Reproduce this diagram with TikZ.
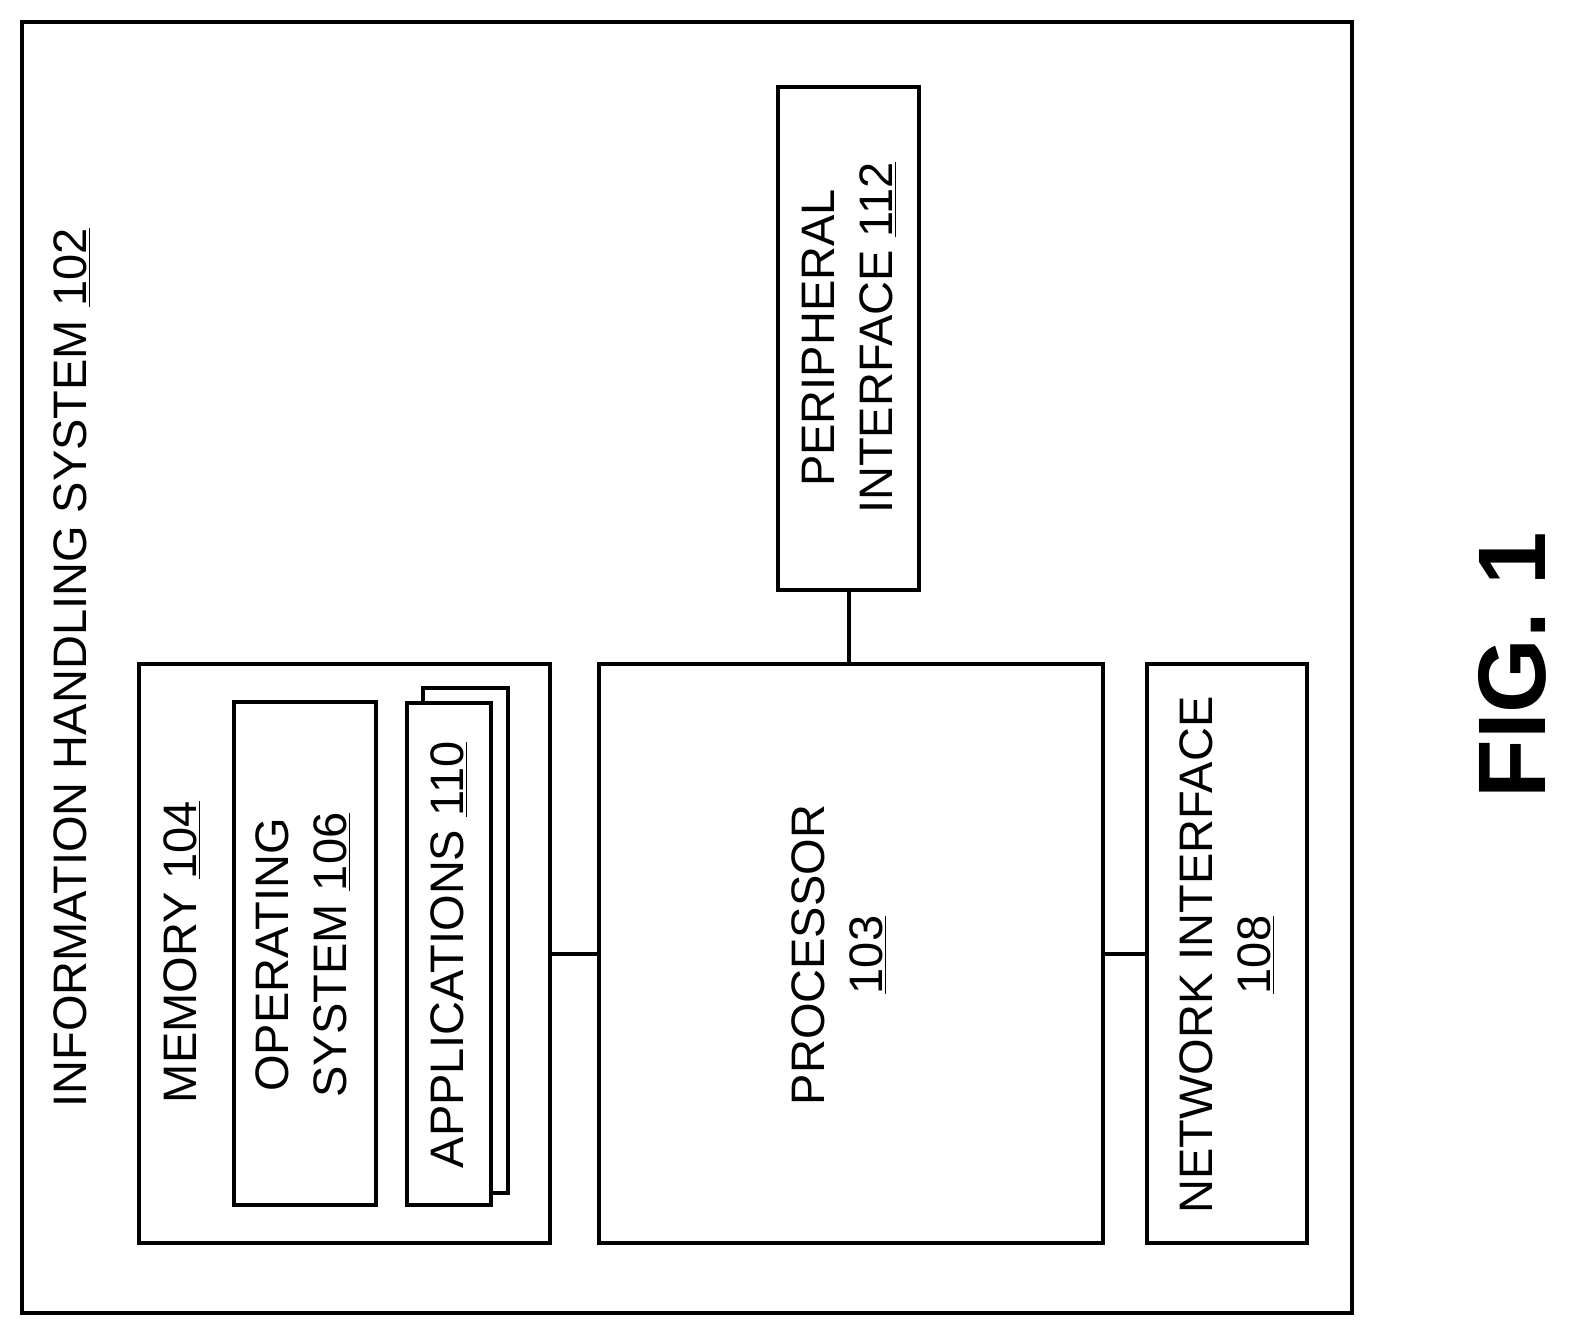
\documentclass[tikz,border=0pt]{standalone}
\usepackage{fontspec}
\setmainfont{Liberation Sans}
\begin{document}
\begin{tikzpicture}[x=0.5pt,y=-0.5pt,
  box/.style={draw,line width=2pt},
  lbl/.style={rotate=90,align=center,font=\fontsize{23.5}{29}\selectfont,inner sep=0pt}]
\useasboundingbox (0,0) rectangle (1573,1340);
\draw[box] (22,22) rectangle (1352,1313);
\draw[box] (778,87) rectangle (919,590);
\draw[box] (139,664) rectangle (550,1243);
\draw[box] (234,702) rectangle (376,1205);
\draw[box,fill=white] (423,688) rectangle (508,1193);
\draw[box,fill=white] (407,703) rectangle (491,1205);
\draw[box] (599,664) rectangle (1103,1243);
\draw[box] (1147,664) rectangle (1307,1243);
\coordinate (memR) at (550,954);
\coordinate (procL) at (599,954);
\coordinate (procR) at (1103,954);
\coordinate (netL) at (1147,954);
\coordinate (perB) at (849,590);
\coordinate (procT) at (849,664);
\draw[line width=2pt] (memR) -- (procL);
\draw[line width=2pt] (procR) -- (netL);
\draw[line width=2pt] (perB) -- (procT);
\node[lbl] (t1) at (72,668) {INFORMATION HANDLING SYSTEM \underline{102}};
\node[lbl] (t2) at (182,952) {MEMORY \underline{104}};
\node[lbl] (t3) at (303,955) {OPERATING\\SYSTEM \underline{106}};
\node[lbl] (t4) at (449,955) {APPLICATIONS \underline{110}};
\node[lbl] (t5) at (839,955) {PROCESSOR\\\underline{103}};
\node[lbl] (t6) at (1227,955) {NETWORK INTERFACE\\\underline{108}};
\node[lbl] (t7) at (849,338) {PERIPHERAL\\INTERFACE \underline{112}};
\node[rotate=90,font=\fontsize{48}{56}\selectfont\bfseries,inner sep=0pt] (fig) at (1512,665) {FIG. 1};
\end{tikzpicture}
\end{document}
